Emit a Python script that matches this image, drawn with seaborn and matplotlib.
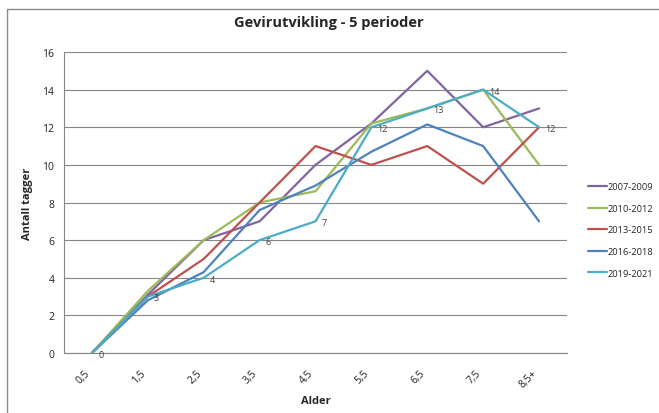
import matplotlib
matplotlib.use("Agg")
import matplotlib.pyplot as plt
from matplotlib.patches import Rectangle
from matplotlib.lines import Line2D
import seaborn as sns
import pandas as pd

ages = ["0,5", "1,5", "2,5", "3,5", "4,5", "5,5", "6,5", "7,5", "8,5+"]
periods = ["2007-2009", "2010-2012", "2013-2015", "2016-2018", "2019-2021"]
v_2007_2009 = [0, 3.1, 6, 7, 10, 12.2, 15, 12, 13]
v_2010_2012 = [0, 3.3, 6, 8, 8.6, 12.2, 13, 14, 10]
v_2013_2015 = [0, 3, 5, 8, 11, 10, 11, 9, 12]
v_2016_2018 = [0, 2.8, 4.3, 7.6, 8.9, 10.7, 12.15, 11, 7]
v_2019_2021 = [0, 3, 4, 6, 7, 12, 13, 14, 12]
colors = ["#8064A2", "#9BBB59", "#C0504D", "#4F81BD", "#4BACC6"]

series = [v_2007_2009, v_2010_2012, v_2013_2015, v_2016_2018, v_2019_2021]
rows = []
for p, vals in zip(periods, series):
    for a, v in zip(ages, vals):
        rows.append({"Alder": a, "Antall tagger": v, "Periode": p})
df = pd.DataFrame(rows)

sns.set_theme(style="white")
plt.rcParams["font.family"] = ["Open Sans", "DejaVu Sans"]

fig = plt.figure(figsize=(6.59, 4.14), dpi=100)
ax = fig.add_axes([64/659, 1-354/414, (567-64)/659, (354-53)/414])

palette = dict(zip(periods, colors))
sns.lineplot(data=df, x="Alder", y="Antall tagger", hue="Periode",
             palette=palette, sort=False, linewidth=1.6, ax=ax, legend=False)

# data labels for last series
for i, (a, v) in enumerate(zip(ages, v_2019_2021)):
    ax.annotate(f"{v:g}", (i, v), xytext=(4.5, -1), textcoords="offset points",
                ha="left", va="center", fontsize=6.5, color="#404040")

ax.set_xlim(-0.5, len(ages) - 0.5)
ax.set_ylim(0, 16)
ax.set_yticks(range(0, 17, 2))
ax.set_xticks(range(len(ages)))
ax.set_xticklabels(ages, rotation=45, ha="right", va="top", fontsize=7.5,
                   color="#222222")
ax.set_xticks([i - 0.5 for i in range(len(ages) + 1)], minor=True)
ax.tick_params(axis="x", which="major", length=0, pad=10)
ax.tick_params(axis="x", which="minor", length=4, width=0.8, color="#868686", direction="out")
ax.tick_params(axis="y", length=4, width=0.8, color="#868686", direction="out",
               labelsize=7.5, pad=3, labelcolor="#222222")
ax.yaxis.grid(True, color="#868686", linewidth=0.8)
ax.xaxis.grid(False)
for s in ["top", "right"]:
    ax.spines[s].set_visible(False)
for s in ["left", "bottom"]:
    ax.spines[s].set_color("#868686")
    ax.spines[s].set_linewidth(0.8)

ax.set_xlabel("Alder", fontsize=8, fontweight="bold", labelpad=4)
ax.set_ylabel("Antall tagger", fontsize=8, fontweight="bold", labelpad=7)
fig.text(329/659, 1-23/414, "Gevirutvikling - 5 perioder", ha="center", va="center",
         fontsize=10.5, fontweight="bold")

handles = [Line2D([0], [0], color=c, lw=1.6) for c in colors]
fig.legend(handles, periods, loc="center left", bbox_to_anchor=(580/659, 1-231/414),
           frameon=False, fontsize=6.7, handlelength=2.0, handletextpad=0.1,
           labelspacing=1.35)

fig.add_artist(Rectangle((7/659, -0.1), 1.2, 1.1 - 10/414, transform=fig.transFigure,
                         fill=False, edgecolor="#8c8c8c", linewidth=1))

fig.savefig("out.png", dpi=100)
